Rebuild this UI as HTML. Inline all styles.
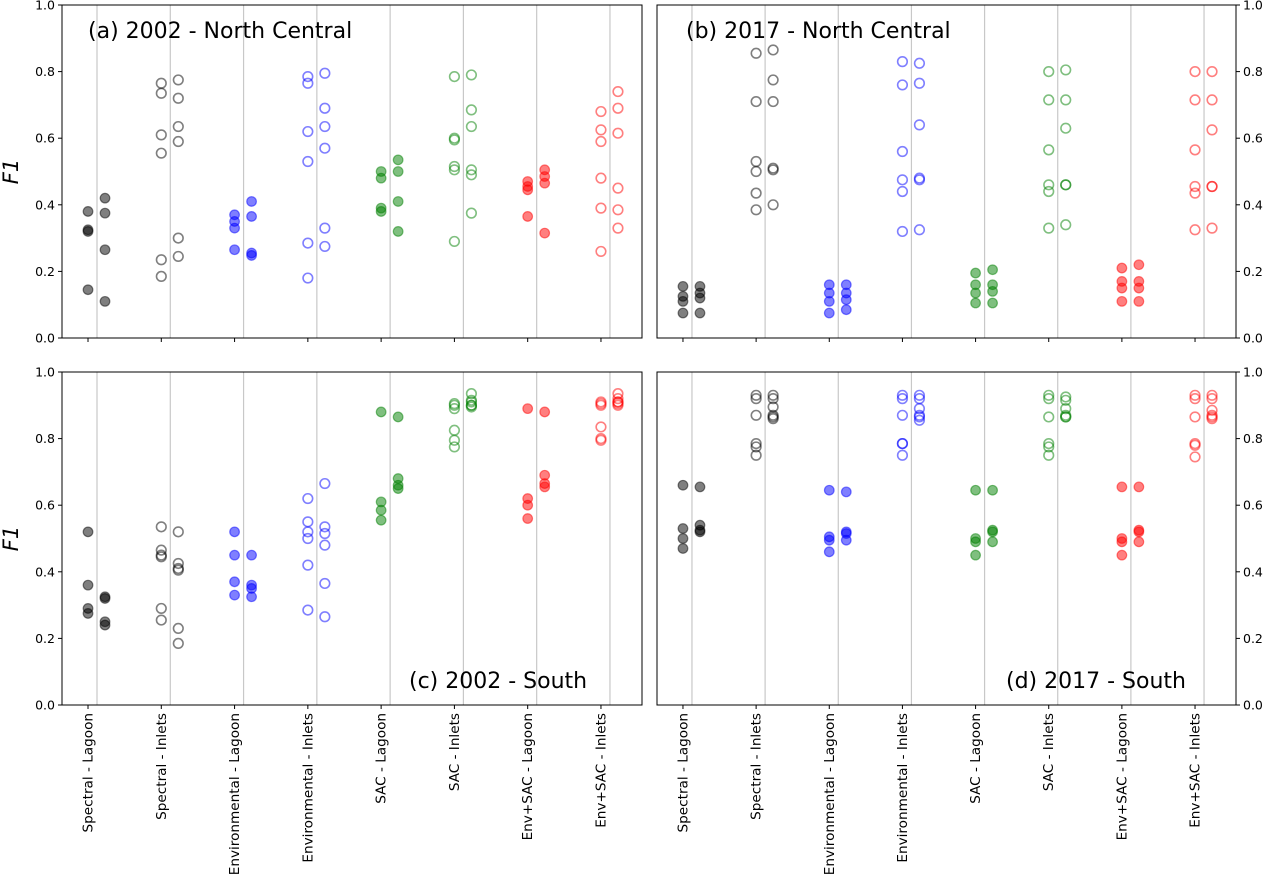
<!DOCTYPE html>
<html><head><meta charset="utf-8"><style>
body{margin:0;background:#fff;}
svg{display:block;font-family:"DejaVu Sans","Liberation Sans",sans-serif;}
</style></head><body>
<svg id="chart" width="1270" height="880" viewBox="0 0 1270 880" xmlns="http://www.w3.org/2000/svg"></svg>
<script>
const categories=["Spectral - Lagoon","Spectral - Inlets","Environmental - Lagoon","Environmental - Inlets","SAC - Lagoon","SAC - Inlets","Env+SAC - Lagoon","Env+SAC - Inlets"];
const catColors=["#000","#000","#00f","#00f","#008000","#008000","#f00","#f00"];
const yTicks=[0.0,0.2,0.4,0.6,0.8,1.0];
const panelTitles=["(a) 2002 - North Central","(b) 2017 - North Central","(c) 2002 - South","(d) 2017 - South"];
const dataA=[
[[0.38,0.325,0.32,0.145],[0.42,0.375,0.265,0.11]],
[[0.765,0.735,0.61,0.555,0.235,0.185],[0.775,0.72,0.635,0.59,0.30,0.245]],
[[0.37,0.35,0.33,0.265],[0.41,0.365,0.255,0.248]],
[[0.785,0.765,0.62,0.53,0.285,0.18],[0.795,0.69,0.635,0.57,0.33,0.275]],
[[0.50,0.48,0.39,0.38],[0.535,0.50,0.41,0.32]],
[[0.785,0.60,0.595,0.515,0.505,0.29],[0.79,0.685,0.635,0.505,0.49,0.375]],
[[0.47,0.455,0.445,0.365],[0.505,0.485,0.465,0.315]],
[[0.68,0.625,0.59,0.48,0.39,0.26],[0.74,0.69,0.615,0.45,0.385,0.33]]];
const dataB=[
[[0.155,0.125,0.11,0.075],[0.155,0.135,0.12,0.075]],
[[0.855,0.71,0.53,0.50,0.435,0.385],[0.865,0.775,0.71,0.51,0.505,0.40]],
[[0.16,0.135,0.11,0.075],[0.16,0.135,0.115,0.085]],
[[0.83,0.76,0.56,0.475,0.44,0.32],[0.825,0.765,0.64,0.48,0.475,0.325]],
[[0.195,0.16,0.135,0.105],[0.205,0.16,0.14,0.105]],
[[0.80,0.715,0.565,0.46,0.44,0.33],[0.805,0.715,0.63,0.46,0.46,0.34]],
[[0.21,0.17,0.15,0.11],[0.22,0.17,0.15,0.11]],
[[0.80,0.715,0.565,0.455,0.435,0.325],[0.80,0.715,0.625,0.455,0.455,0.33]]];
const dataC=[
[[0.52,0.36,0.29,0.275],[0.325,0.32,0.25,0.24]],
[[0.535,0.465,0.45,0.445,0.29,0.255],[0.52,0.425,0.41,0.405,0.23,0.185]],
[[0.52,0.45,0.37,0.33],[0.45,0.36,0.35,0.325]],
[[0.62,0.55,0.52,0.50,0.42,0.285],[0.665,0.535,0.515,0.48,0.365,0.265]],
[[0.88,0.61,0.585,0.555],[0.865,0.68,0.66,0.65]],
[[0.905,0.89,0.90,0.825,0.795,0.775],[0.935,0.915,0.90,0.895,0.90,0.91]],
[[0.89,0.62,0.60,0.56],[0.88,0.69,0.665,0.655]],
[[0.91,0.90,0.905,0.835,0.80,0.795],[0.935,0.92,0.91,0.905,0.91,0.90]]];
const dataD=[
[[0.66,0.53,0.50,0.47],[0.655,0.54,0.525,0.52]],
[[0.93,0.92,0.87,0.785,0.775,0.75],[0.93,0.92,0.895,0.87,0.865,0.86]],
[[0.645,0.505,0.495,0.46],[0.64,0.52,0.515,0.495]],
[[0.93,0.92,0.87,0.785,0.785,0.75],[0.93,0.92,0.89,0.87,0.865,0.855]],
[[0.645,0.50,0.49,0.45],[0.645,0.525,0.52,0.49]],
[[0.93,0.92,0.865,0.785,0.775,0.75],[0.925,0.915,0.89,0.87,0.865,0.865]],
[[0.655,0.50,0.49,0.45],[0.655,0.525,0.52,0.49]],
[[0.93,0.92,0.865,0.785,0.78,0.745],[0.93,0.92,0.885,0.87,0.865,0.86]]];

const NS="http://www.w3.org/2000/svg";
const svg=document.getElementById('chart');
function mk(tag,attrs,parent,text){const e=document.createElementNS(NS,tag);for(const k in attrs)e.setAttribute(k,attrs[k]);if(text!==undefined)e.textContent=text;(parent||svg).appendChild(e);return e;}

const panels=[
 {x0:62,x1:642,y0:5,y1:338,data:dataA,title:panelTitles[0],tx:88,ty:38,side:'left',xl:false,name:'panel-a'},
 {x0:657,x1:1236,y0:5,y1:338,data:dataB,title:panelTitles[1],tx:686,ty:38,side:'right',xl:false,name:'panel-b'},
 {x0:62,x1:642,y0:372,y1:705,data:dataC,title:panelTitles[2],tx:409,ty:688,side:'left',xl:true,name:'panel-c'},
 {x0:657,x1:1236,y0:372,y1:705,data:dataD,title:panelTitles[3],tx:1006,ty:688,side:'right',xl:true,name:'panel-d'}];

panels.forEach(p=>{
 const g=mk('g',{});
 
 
 const xs=c=>p.x0+(c+0.355)/(7.915)*(p.x1-p.x0)+8.5;
 const ys=v=>p.y1-v*(p.y1-p.y0);
 categories.forEach((c,i)=>{
  const l=mk('line',{x1:xs(i)+0.5,x2:xs(i)+0.5,y1:p.y0,y2:p.y1,stroke:'#c8c8c8','stroke-width':1.2},g);
  
  
  const t=mk('line',{x1:xs(i)-8.5,x2:xs(i)-8.5,y1:p.y1,y2:p.y1+4,stroke:'#000','stroke-width':1},g);
  
  
  if(p.xl){
   const tx=xs(i)-8.5+4.5, ty=p.y1+8;
   const lab=mk('text',{x:0,y:0,transform:`translate(${tx},${ty}) rotate(-90)`,'text-anchor':'end','font-size':13.6},g,c);
   
   
  }
 });
 yTicks.forEach(v=>{
  const y=ys(v);
  const xa=p.side==='left'?p.x0:p.x1;
  const dx=p.side==='left'?-4:4;
  const t=mk('line',{x1:xa,x2:xa+dx,y1:y,y2:y,stroke:'#000','stroke-width':1},g);
  
  
  const lab=mk('text',{x:p.side==='left'?xa-7:xa+7,y:y+4.5,'text-anchor':p.side==='left'?'end':'start','font-size':12.5},g,v.toFixed(1));
  
  
 });
 p.data.forEach((cols,i)=>{
  const filled=i%2===0, col=catColors[i];
  cols.forEach((vals,j)=>{
   const x=xs(i)+(j===0?-8.5:8.5);
   vals.forEach(v=>{
    const attrs=filled?{cx:x,cy:ys(v),r:4.8,fill:col,'fill-opacity':0.5,stroke:col,'stroke-opacity':0.5,'stroke-width':1.2}
                      :{cx:x,cy:ys(v),r:4.8,fill:'none',stroke:col,'stroke-opacity':0.5,'stroke-width':1.6};
    const c=mk('circle',attrs,g);
    
    
   });
  });
 });
 const fr=mk('rect',{x:p.x0,y:p.y0,width:p.x1-p.x0,height:p.y1-p.y0,fill:'none',stroke:'#000','stroke-width':1},g);
 
 
 const ti=mk('text',{x:p.tx,y:p.ty,'font-size':22},g,p.title);
 
 
 if(p.side==='left'){
  const yl=mk('text',{x:0,y:0,transform:`translate(18,${(p.y0+p.y1)/2}) rotate(-90)`,'text-anchor':'middle','font-size':21,'font-style':'italic'},g,'F1');
  
  
 }
});
</script>
</body></html>
